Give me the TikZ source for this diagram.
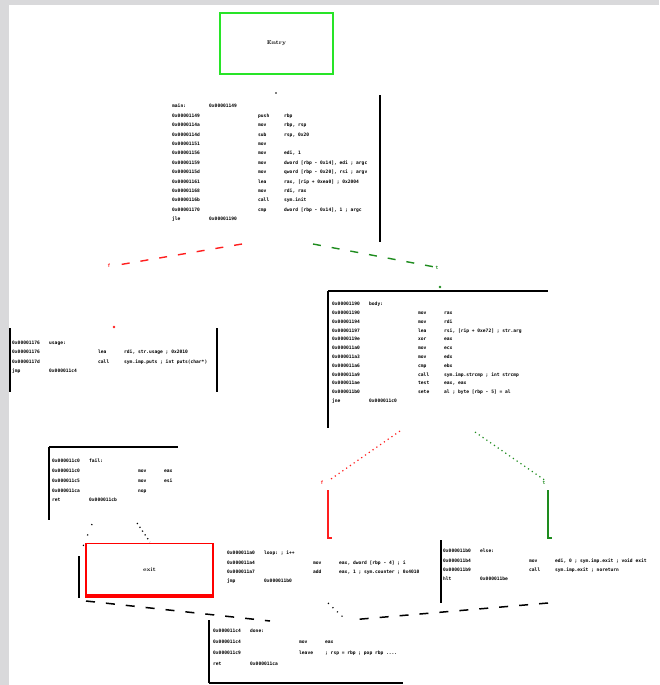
\documentclass[tikz,border=0pt]{standalone}
\usepackage{fontspec}
\setmonofont{DejaVu Sans Mono}
\usepackage{tikz}
\usetikzlibrary{calc}
\usepackage{xcolor}
\definecolor{bggray}{RGB}{217,217,219}
\definecolor{boxgreen}{RGB}{40,228,40}
\definecolor{edgegreen}{RGB}{30,140,30}
\definecolor{edgered}{RGB}{255,30,30}

% one line of a listing: address, mnemonic, operands
\newcommand{\ins}[3]{\makebox[86pt][l]{#1}\makebox[26pt][l]{#2}#3}
% a header or footer line of a listing
\newcommand{\lbl}[2]{\makebox[37pt][l]{#1}#2}

\begin{document}
\begin{tikzpicture}[x=1pt, y=-1pt,
    asm/.style={anchor=north west, inner sep=0pt, align=left,
        font=\ttfamily\bfseries\fontsize{4.6}{#1}\selectfont},
    asm/.default=9.3,
    border/.style={black, line width=1.4pt},
    redge/.style={edgered, line width=1.4pt, dash pattern=on 8pt off 11pt},
    gedge/.style={edgegreen, line width=1.4pt, dash pattern=on 8pt off 11pt},
    kedge/.style={black, line width=1.5pt, dash pattern=on 9pt off 11pt},
    dots/.style={line width=1.2pt, dash pattern=on 1.2pt off 3.4pt},
    tag/.style={inner sep=0pt, font=\ttfamily\bfseries\fontsize{4.6}{5}\selectfont}]

    % 1. Background
    \fill[bggray] (0,0) rectangle (659,685);
    \fill[white] (9,5) rectangle (659,685);
    \useasboundingbox (0,0) rectangle (659,685);

    % 2. Entry and exit boxes
    \node[draw=boxgreen, line width=1.8pt, minimum width=113pt, minimum height=61pt,
        font=\bfseries\fontsize{5.5}{6}\selectfont] (N0) at (276.5,43.5) {Entry};
    \node[draw=red, line width=1.8pt, minimum width=127pt, minimum height=53pt,
        font=\bfseries\fontsize{5.5}{6}\selectfont] (X) at (149.5,570) {exit};
    \draw[red, line width=4pt] ([yshift=1.5pt]X.south west) -- ([yshift=1.5pt]X.south east);

    % 3. Listings
    \node[asm=9.4] (B1) at (172,104) {%
        \lbl{main:}{0x00001149}\\
        \ins{0x00001149}{push}{rbp}\\
        \ins{0x0000114a}{mov}{rbp, rsp}\\
        \ins{0x0000114d}{sub}{rsp, 0x20}\\
        \ins{0x00001151}{mov}{}\\
        \ins{0x00001156}{mov}{edi, 1}\\
        \ins{0x00001159}{mov}{dword [rbp - 0x14], edi ; argc}\\
        \ins{0x0000115d}{mov}{qword [rbp - 0x20], rsi ; argv}\\
        \ins{0x00001161}{lea}{rax, [rip + 0xea0] ; 0x2004}\\
        \ins{0x00001168}{mov}{rdi, rax}\\
        \ins{0x0000116b}{call}{sym.init}\\
        \ins{0x00001170}{cmp}{dword [rbp - 0x14], 1 ; argc}\\
        \lbl{jle}{0x00001190}};
    \node[asm] (B2) at (12,341) {%
        \lbl{0x00001176}{usage:}\\
        \ins{0x00001176}{lea}{rdi, str.usage ; 0x2010}\\
        \ins{0x0000117d}{call}{sym.imp.puts ; int puts(char*)}\\
        \lbl{jmp}{0x000011c4}};
    \node[asm=8.8] (B3) at (332,302) {%
        \lbl{0x00001190}{body:}\\
        \ins{0x00001190}{mov}{rax}\\
        \ins{0x00001194}{mov}{rdi}\\
        \ins{0x00001197}{lea}{rsi, [rip + 0xe72] ; str.arg}\\
        \ins{0x0000119e}{xor}{eax}\\
        \ins{0x000011a0}{mov}{ecx}\\
        \ins{0x000011a3}{mov}{edx}\\
        \ins{0x000011a6}{cmp}{ebx}\\
        \ins{0x000011a9}{call}{sym.imp.strcmp ; int strcmp}\\
        \ins{0x000011ae}{test}{eax, eax}\\
        \ins{0x000011b0}{sete}{al ; byte [rbp - 5] = al}\\
        \lbl{jne}{0x000011c0}};
    \node[asm=9.7] (B4) at (52,459) {%
        \lbl{0x000011c0}{fail:}\\
        \ins{0x000011c0}{mov}{eax}\\
        \ins{0x000011c5}{mov}{esi}\\
        \ins{0x000011ca}{nop}{}\\
        \lbl{ret}{0x000011cb}};
    \node[asm] (B5) at (227,551) {%
        \lbl{0x000011a0}{loop: ; i++}\\
        \ins{0x000011a4}{mov}{eax, dword [rbp - 4] ; i}\\
        \ins{0x000011a7}{add}{eax, 1 ; sym.counter ; 0x4010}\\
        \lbl{jmp}{0x000011b0}};
    \node[asm] (B6) at (443,549) {%
        \lbl{0x000011b0}{else:}\\
        \ins{0x000011b4}{mov}{edi, 0 ; sym.imp.exit ; void exit}\\
        \ins{0x000011b9}{call}{sym.imp.exit ; noreturn}\\
        \lbl{hlt}{0x000011be}};
    \node[asm=11] (B7) at (213,629) {%
        \lbl{0x000011c4}{done:}\\
        \ins{0x000011c4}{mov}{eax}\\
        \ins{0x000011c9}{leave}{; rsp = rbp ; pop rbp ....}\\
        \lbl{ret}{0x000011ca}};

    % 4. Listing borders
    \foreach \xa/\ya/\xb/\yb in {380/95/380/242, 10/328/10/392, 217/328/217/392,
        328/291/548/291, 328/291/328/428, 49/447/178/447, 49/447/49/520,
        79/556/79/598, 441/540/441/603, 209/620/209/683, 209/683/403/683} {
        \draw[border] (\xa,\ya) -- (\xb,\yb);
    }

    % 5. Edge end points
    \coordinate (R1) at (242,244);   \coordinate (R2) at (112,266);
    \coordinate (G1) at (313,244);   \coordinate (G2) at (440,268);
    \coordinate (R3) at (400,431);   \coordinate (R4) at (331,479);
    \coordinate (G3) at (475,432);   \coordinate (G4) at (546,481);
    \coordinate (R5) at (328,490);   \coordinate (R6) at (328,538);
    \coordinate (G5) at (548,490);   \coordinate (G6) at (548,538);
    \coordinate (K1) at (92,524);    \coordinate (K2) at (82,549);
    \coordinate (K3) at (137,523);   \coordinate (K4) at (150,542);
    \coordinate (K5) at (86,601);    \coordinate (K6) at (270,621);
    \coordinate (K7) at (328,603);   \coordinate (K8) at (344,618);
    \coordinate (K9) at (548,603);   \coordinate (K10) at (350,620);

    % 6. Edges
    \draw[redge] (R1) -- (R2);
    \draw[gedge] (G1) -- (G2);
    \draw[edgered, dots] (R3) -- (R4);
    \draw[edgegreen, dots] (G3) -- (G4);
    \draw[edgered, line width=1.4pt] (R5) -- (R6) -- ++(4,0);
    \draw[edgegreen, line width=1.4pt] (G5) -- (G6) -- ++(4,0);
    \draw[black, line width=1.2pt, dash pattern=on 1.2pt off 10pt] (K1) -- (K2);
    \draw[black, dots] (K3) -- (K4);
    \draw[kedge] (K5) -- (K6);
    \draw[black, line width=1.2pt, dash pattern=on 1.2pt off 5pt] (K7) -- (K8);
    \draw[kedge] (K9) -- (K10);

    % 7. Edge tags and arrow stubs
    \node[tag, text=edgered] (TR1) at (109,266) {f};
    \node[tag, text=edgegreen] (TG1) at (437,268) {t};
    \node[tag, text=edgered] (TR2) at (322,483) {f};
    \node[tag, text=edgegreen] (TG2) at (544,483) {t};
    \fill[black] (276,93) circle (0.9pt);
    \fill[edgered] (114,327) circle (1.3pt);
    \fill[edgegreen] (440,287) circle (1.3pt);

\end{tikzpicture}
\end{document}
